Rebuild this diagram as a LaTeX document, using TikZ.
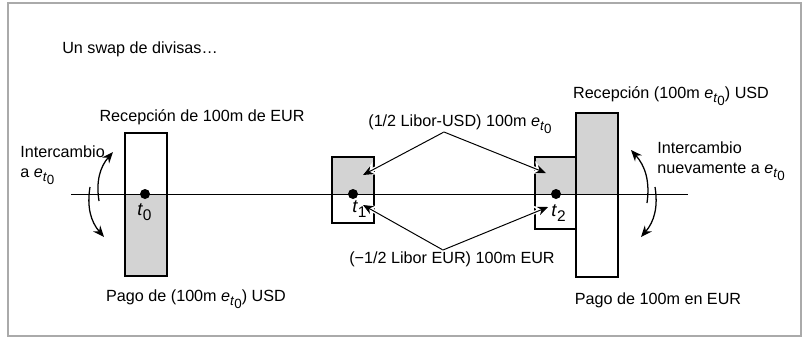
\documentclass[tikz,border=0pt]{standalone}
\usepackage{fontspec}
\setmainfont{Liberation Sans}
\usetikzlibrary{arrows.meta, positioning, fit}
\definecolor{framegray}{RGB}{170,170,170}
\definecolor{bargray}{RGB}{211,211,211}
\newcommand{\etz}{\textit{e}\raisebox{-0.5ex}{\fontsize{9.5}{9.5}\selectfont\textit{t}\raisebox{-0.45ex}{0}}}
\newcommand{\tsub}[1]{\textit{t}\raisebox{-0.55ex}{\fontsize{11}{11}\selectfont #1}}
\tikzset{
  barbox/.style={rectangle, draw=black, line width=1.4pt, inner sep=0pt},
  lbl/.style={font=\fontsize{11.5}{14}\selectfont, inner sep=0pt},
  tlbl/.style={font=\fontsize{13}{14}\selectfont, inner sep=0pt},
  tdot/.style={circle, fill=black, inner sep=0pt, minimum size=2.5mm},
  halarrow/.style={-{Stealth[length=2.6mm, width=2.2mm]}, line width=0.7pt,
    preaction={draw=white, line width=2.6pt, -{Stealth[length=3.6mm, width=3.4mm]}}},
  swarrow/.style={-{Stealth[length=2.8mm, width=2.3mm]}, line width=0.9pt}
}
\begin{document}
\begin{tikzpicture}[x=0.025cm, y=-0.025cm]
  \useasboundingbox (0,0) rectangle (802,338);
  \draw[framegray, line width=1.5pt] (8,3) rectangle (801,336);

  % Time axis
  \coordinate (axl) at (71,194);
  \coordinate (axr) at (688,194);

  % Bars
  \path (125,133) coordinate (b0a) (167,276) coordinate (b0b);
  \path (332,157) coordinate (b1a) (374,223) coordinate (b1b);
  \path (535,157) coordinate (b2a) (576,229) coordinate (b2b);
  \path (576,113) coordinate (b3a) (618,277) coordinate (b3b);
  \node[barbox, fit=(b0a)(b0b)] (bar0) {};
  \node[barbox, fit=(b1a)(b1b)] (bar1) {};
  \node[barbox, fit=(b2a)(b2b)] (bar2) {};
  \node[barbox, fit=(b3a)(b3b)] (bar3) {};
  \fill[bargray] (bar0.west |- axl) rectangle (bar0.south east);
  \fill[bargray] (bar1.north west) rectangle (bar1.east |- axl);
  \fill[bargray] (bar2.north west) rectangle (bar2.east |- axl);
  \fill[bargray] (bar3.north west) rectangle (bar3.east |- axl);
  \draw[line width=0.7pt] (axl) -- (axr);
  \node[barbox, fit=(b0a)(b0b)] {};
  \node[barbox, fit=(b1a)(b1b)] {};
  \node[barbox, fit=(b2a)(b2b)] {};
  \node[barbox, fit=(b3a)(b3b)] {};

  % Dates
  \node[tdot] (d0) at (145,194) {};
  \node[tdot] (d1) at (353,194) {};
  \node[tdot] (d2) at (556,194) {};
  \node[tlbl, anchor=base west] (t0) at (137,215) {\tsub{0}};
  \node[tlbl, anchor=base west] (t1) at (352,212) {\tsub{1}};
  \node[tlbl, anchor=base west] (t2) at (551,216) {\tsub{2}};

  % Labels
  \node[lbl, anchor=base west] (title) at (62,53) {Un swap de divisas\dots};
  \node[lbl, anchor=base] (receur) at (202,121) {Recepción de 100m de EUR};
  \node[lbl, anchor=base] (pagousd) at (196,301) {Pago de (100m \etz) USD};
  \node[lbl, anchor=base] (recusd) at (671,98) {Recepción (100m \etz) USD};
  \node[lbl, anchor=base] (pagoeur) at (658,304) {Pago de 100m en EUR};
  \node[lbl, anchor=base] (libusd) at (460,126) {(1/2 Libor-USD) 100m \etz};
  \node[lbl, anchor=base] (libeur) at (452,263) {(\textminus1/2 Libor EUR) 100m EUR};
  \node[lbl, anchor=base west, align=left] (intl) at (20,177) {Intercambio\\a \etz};
  \node[lbl, anchor=base west, align=left] (intr) at (657,173) {Intercambio\\nuevamente a \etz};

  % Coupon arrows
  \coordinate (upap) at (444,132);
  \coordinate (loap) at (443,250);
  \coordinate (up1) at (363,175);
  \coordinate (up2) at (546,173);
  \coordinate (lo1) at (363,205);
  \coordinate (lo2) at (548,207);
  \draw[halarrow] (upap) -- (up1);
  \draw[halarrow] (upap) -- (up2);
  \draw[halarrow] (loap) -- (lo1);
  \draw[halarrow] (loap) -- (lo2);

  % Exchange arrows
  \coordinate (lus) at (99,201);
  \coordinate (lue) at (113,152);
  \coordinate (lds) at (90,187);
  \coordinate (lde) at (104,237);
  \coordinate (rus) at (647,203);
  \coordinate (rue) at (631,150);
  \coordinate (rds) at (655,187);
  \coordinate (rde) at (641,237);
  \draw[swarrow] (lus) to[bend left=25] (lue);
  \draw[swarrow] (lds) to[bend right=25] (lde);
  \draw[swarrow] (rus) to[bend right=25] (rue);
  \draw[swarrow] (rds) to[bend left=25] (rde);
\end{tikzpicture}
\end{document}
